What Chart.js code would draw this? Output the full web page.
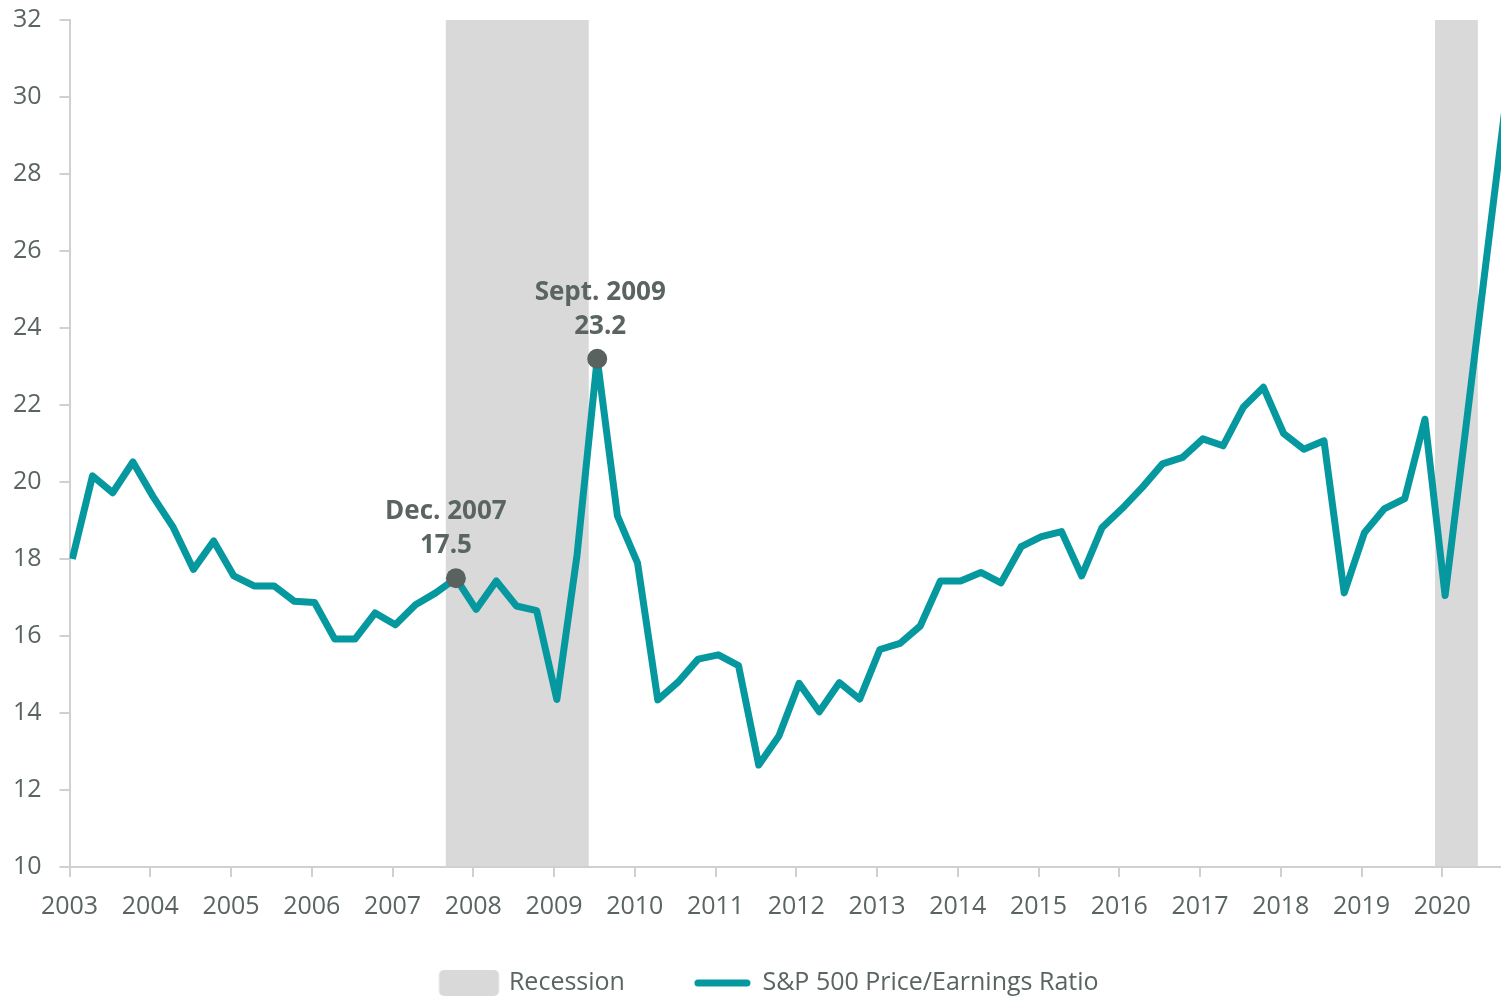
<!DOCTYPE html>
<html>
<head>
<meta charset="utf-8">
<script src="https://cdn.jsdelivr.net/npm/chart.js@4.4.1/dist/chart.umd.min.js"></script>
<style>
  html, body { margin: 0; padding: 0; background: #fff; overflow: hidden; }
  #wrap { width: 1501px; height: 997px; position: relative; }
</style>
</head>
<body>
<div id="wrap"><canvas id="peChart"></canvas></div>
<script>
// S&P 500 P/E ratio, one value per quarter, first value is Q1 2003
const peRatio = [
  18.0, 20.16, 19.72, 20.52, 19.62, 18.82, 17.73, 18.47,
  17.56, 17.3, 17.3, 16.9, 16.87, 15.92, 15.92, 16.6,
  16.29, 16.81, 17.12, 17.5, 16.69, 17.43, 16.78, 16.66,
  14.35, 18.1, 23.2, 19.12, 17.89, 14.34, 14.8, 15.4,
  15.51, 15.23, 12.65, 13.4, 14.77, 14.03, 14.79, 14.36,
  15.65, 15.81, 16.26, 17.43, 17.43, 17.65, 17.38, 18.32,
  18.58, 18.71, 17.56, 18.81, 19.31, 19.86, 20.47, 20.64,
  21.12, 20.94, 21.94, 22.46, 21.26, 20.85, 21.07, 17.12,
  18.68, 19.31, 19.57, 21.63, 17.05, 21.3, 25.6, 29.85
];
const firstYear = 2003;
const yearLabels = [2003, 2004, 2005, 2006, 2007, 2008, 2009, 2010, 2011,
  2012, 2013, 2014, 2015, 2016, 2017, 2018, 2019, 2020];
const yTicks = [10, 12, 14, 16, 18, 20, 22, 24, 26, 28, 30, 32];

// recessions, decimal years
const recessionStart = [2007.66, 2019.91];
const recessionEnd = [2009.43, 2020.44];

// points called out on the chart (index into peRatio)
const calloutIndex = [19, 26];
const calloutTitle = ['Dec. 2007', 'Sept. 2009'];

const seriesNames = ['Recession', 'S&P 500 Price/Earnings Ratio'];

// styles
const TEAL = '#05989f';
const TEXT = '#5a6562';
const SHADE = '#d9d9d9';
const AXIS = '#d0d0d0';
const MARKER = '#59625f';
const FONT = '"Open Sans", "Noto Sans", sans-serif';
const pointOffset = 0.035;      // data sits a little right of the year ticks
const calloutShift = [-10, 3];  // label nudge in px

// legend symbols as small canvases
function makeGlyph(draw) {
    const c = document.createElement('canvas');
    c.width = 120;
    c.height = 28;
    draw(c.getContext('2d'));
    return c;
}
const recessionGlyph = makeGlyph(g => {
    g.fillStyle = SHADE;
    g.beginPath();
    g.roundRect(49.5, 1, 60, 26, 5);
    g.fill();
});
const lineGlyph = makeGlyph(g => {
    g.strokeStyle = TEAL;
    g.lineWidth = 7;
    g.lineCap = 'round';
    g.beginPath();
    g.moveTo(55, 14);
    g.lineTo(104, 14);
    g.stroke();
});

// grey recession bands behind the line
const recessionShading = {
    id: 'recessionShading',
    beforeDatasetsDraw(chart) {
        const { ctx, chartArea, scales: { x } } = chart;
        ctx.save();
        ctx.fillStyle = SHADE;
        recessionStart.forEach((start, i) => {
            const left = x.getPixelForValue(start);
            const right = x.getPixelForValue(recessionEnd[i]);
            ctx.fillRect(left, chartArea.top, right - left, chartArea.bottom - chartArea.top - 1);
        });
        ctx.restore();
    }
};

// "Dec. 2007 / 17.5" style labels above the marked points
const callouts = {
    id: 'callouts',
    afterDatasetsDraw(chart) {
        const { ctx } = chart;
        const meta = chart.getDatasetMeta(0);
        ctx.save();
        ctx.font = 'bold 26px ' + FONT;
        ctx.fillStyle = TEXT;
        ctx.textAlign = 'center';
        ctx.textBaseline = 'alphabetic';
        calloutIndex.forEach((idx, i) => {
            const pt = meta.data[idx];
            const cx = pt.x + calloutShift[i];
            ctx.fillText(calloutTitle[i], cx, pt.y - 59);
            ctx.fillText(peRatio[idx].toFixed(1), cx, pt.y - 25);
        });
        ctx.restore();
    }
};

function buildChart() {
    const ctx = document.getElementById('peChart').getContext('2d');
    window.peChart = new Chart(ctx, {
        type: 'line',
        data: {
            datasets: [{
                label: seriesNames[1],
                data: peRatio.map((v, i) => ({ x: firstYear + pointOffset + i / 4, y: v })),
                borderColor: TEAL,
                borderWidth: 7,
                borderJoinStyle: 'round',
                tension: 0,
                fill: false,
                pointRadius: peRatio.map((_, i) => calloutIndex.includes(i) ? 10 : 0),
                pointBackgroundColor: MARKER,
                pointBorderWidth: 0
            }]
        },
        options: {
            responsive: true,
            maintainAspectRatio: false,
            animation: false,
            events: [],
            layout: { padding: { left: 0, right: 0, top: 20, bottom: 0 } },
            plugins: {
                tooltip: { enabled: false },
                legend: {
                    position: 'bottom',
                    maxHeight: 75.4,
                    title: {
                        display: true,
                        text: '',
                        font: { size: 10, lineHeight: 1 },
                        padding: { top: 7.9, bottom: 0 }
                    },
                    labels: {
                        usePointStyle: true,
                        pointStyleWidth: 94,
                        padding: 31,
                        color: TEXT,
                        font: { family: FONT, size: 25 },
                        generateLabels: () => [
                            { text: seriesNames[0], pointStyle: recessionGlyph, fontColor: TEXT, lineWidth: 0, hidden: false, datasetIndex: 0 },
                            { text: seriesNames[1], pointStyle: lineGlyph, fontColor: TEXT, lineWidth: 0, hidden: false, datasetIndex: 0 }
                        ]
                    }
                }
            },
            scales: {
                x: {
                    type: 'linear',
                    min: firstYear,
                    max: 2020.727,
                    afterBuildTicks: axis => { axis.ticks = yearLabels.map(v => ({ value: v })); },
                    afterFit: axis => { axis.height = 54.6; },
                    ticks: {
                        callback: v => String(v),
                        color: TEXT,
                        font: { family: FONT, size: 25 },
                        padding: 15,
                        autoSkip: false,
                        maxRotation: 0
                    },
                    grid: { drawOnChartArea: false, drawTicks: true, tickLength: 10, color: AXIS, lineWidth: 2 },
                    border: { color: AXIS, width: 2 }
                },
                y: {
                    min: 10,
                    max: 32,
                    afterBuildTicks: axis => { axis.ticks = yTicks.map(v => ({ value: v })); },
                    afterFit: axis => {
                        axis.width = 69.5;
                        axis.paddingTop = 0;
                        axis.paddingBottom = 0;
                    },
                    ticks: {
                        color: TEXT,
                        font: { family: FONT, size: 25 },
                        padding: 18
                    },
                    grid: { drawOnChartArea: false, drawTicks: true, tickLength: 10, color: AXIS, lineWidth: 2 },
                    border: { color: AXIS, width: 2 }
                }
            }
        },
        plugins: [recessionShading, callouts]
    });
}

document.fonts.load('25px "Open Sans"').then(buildChart, buildChart);
</script>
</body>
</html>
